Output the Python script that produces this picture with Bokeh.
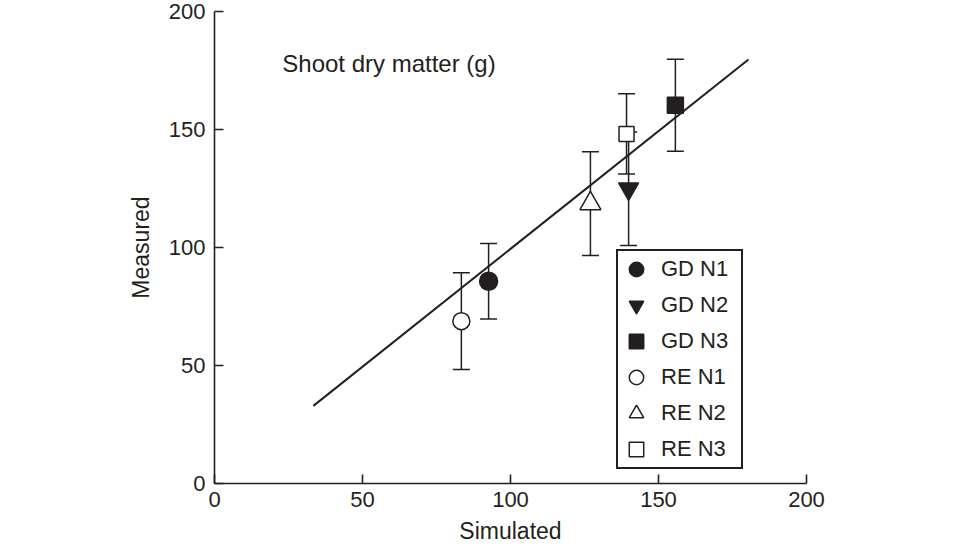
from bokeh.plotting import figure
from bokeh.models import (Range1d, FixedTicker, Whisker, TeeHead, ColumnDataSource,
                          Legend, LegendItem, Label)
from bokeh.embed import file_html
from bokeh.resources import INLINE

# ---- data ----
series = ["GD N1", "GD N2", "GD N3", "RE N1", "RE N2", "RE N3"]
simulated = [92.6, 139.9, 155.7, 83.4, 127.0, 139.2]
measured = [85.7, 124.9, 160.3, 68.8, 118.6, 148.1]
error = [16.0, 24.0, 19.5, 20.5, 22.0, 17.0]
fit_x = [33.4, 180.4]
fit_y = [32.9, 179.7]
ticks = [0, 50, 100, 150, 200]
panel_title = "Shoot dry matter (g)"

# ---- styles ----
INK = "#231f20"
FONT = "Liberation Sans"
marker_types = ["circle", "inverted_triangle", "square", "circle", "triangle", "square"]
marker_fill = [INK, INK, INK, "white", "white", "white"]
marker_size = [18, 20, 16, 17, 21, 15]

p = figure(width=944, height=548, output_backend="svg", toolbar_location=None,
           x_range=Range1d(0, 200), y_range=Range1d(0, 200),
           min_border_left=214, min_border_right=138, min_border_top=11,
           min_border_bottom=65)
p.background_fill_color = "white"
p.border_fill_color = "white"
p.outline_line_color = None
p.xgrid.visible = False
p.ygrid.visible = False

for ax in (p.xaxis[0], p.yaxis[0]):
    ax.ticker = FixedTicker(ticks=ticks)
    ax.axis_line_color = INK
    ax.axis_line_width = 1.6
    ax.major_tick_line_color = INK
    ax.major_tick_line_width = 1.6
    ax.major_tick_in = 9
    ax.major_tick_out = 0
    ax.minor_tick_line_color = None
    ax.major_label_text_font = FONT
    ax.major_label_text_font_size = "22px"
    ax.major_label_text_color = INK
    ax.axis_label_text_font = FONT
    ax.axis_label_text_font_size = "23px"
    ax.axis_label_text_font_style = "normal"
    ax.axis_label_text_color = INK
    ax.major_label_standoff = 9

p.xaxis.axis_label = "Simulated"
p.yaxis.axis_label = "Measured"
p.xaxis.major_label_standoff = 8
p.xaxis.axis_label_standoff = 8
p.yaxis.axis_label_standoff = 12

# error bars
for i in range(len(series)):
    src = ColumnDataSource(dict(x=[simulated[i]],
                                upper=[measured[i] + error[i]],
                                lower=[measured[i] - error[i]]))
    w = Whisker(source=src, base="x", upper="upper", lower="lower", dimension="height",
                line_color=INK, line_width=1.5,
                upper_head=TeeHead(size=17, line_color=INK, line_width=1.5),
                lower_head=TeeHead(size=17, line_color=INK, line_width=1.5))
    p.add_layout(w)

# fitted line
p.line(fit_x, fit_y, line_color=INK, line_width=2)

# points
items = []
for i, name in enumerate(series):
    r = p.scatter([simulated[i]], [measured[i]], marker=marker_types[i],
                  size=marker_size[i], fill_color=marker_fill[i],
                  line_color=INK, line_width=1.5)
    items.append(LegendItem(label=name, renderers=[r]))

legend = Legend(items=items, location=(402, 14), orientation="vertical",
                glyph_width=36, glyph_height=36, spacing=0, padding=0,
                label_standoff=7, label_width=80, margin=0,
                label_text_font=FONT, label_text_font_size="22px",
                label_text_color=INK, border_line_color=INK, border_line_width=2,
                border_line_alpha=1.0,
                background_fill_color="white", background_fill_alpha=1.0)
p.add_layout(legend, "center")

p.add_layout(Label(x=22.9, y=178, text=panel_title, text_font=FONT,
                   text_font_size="24px", text_color=INK, text_baseline="middle",
                   text_align="left"))

open("out.html", "w").write(file_html(p, INLINE))
